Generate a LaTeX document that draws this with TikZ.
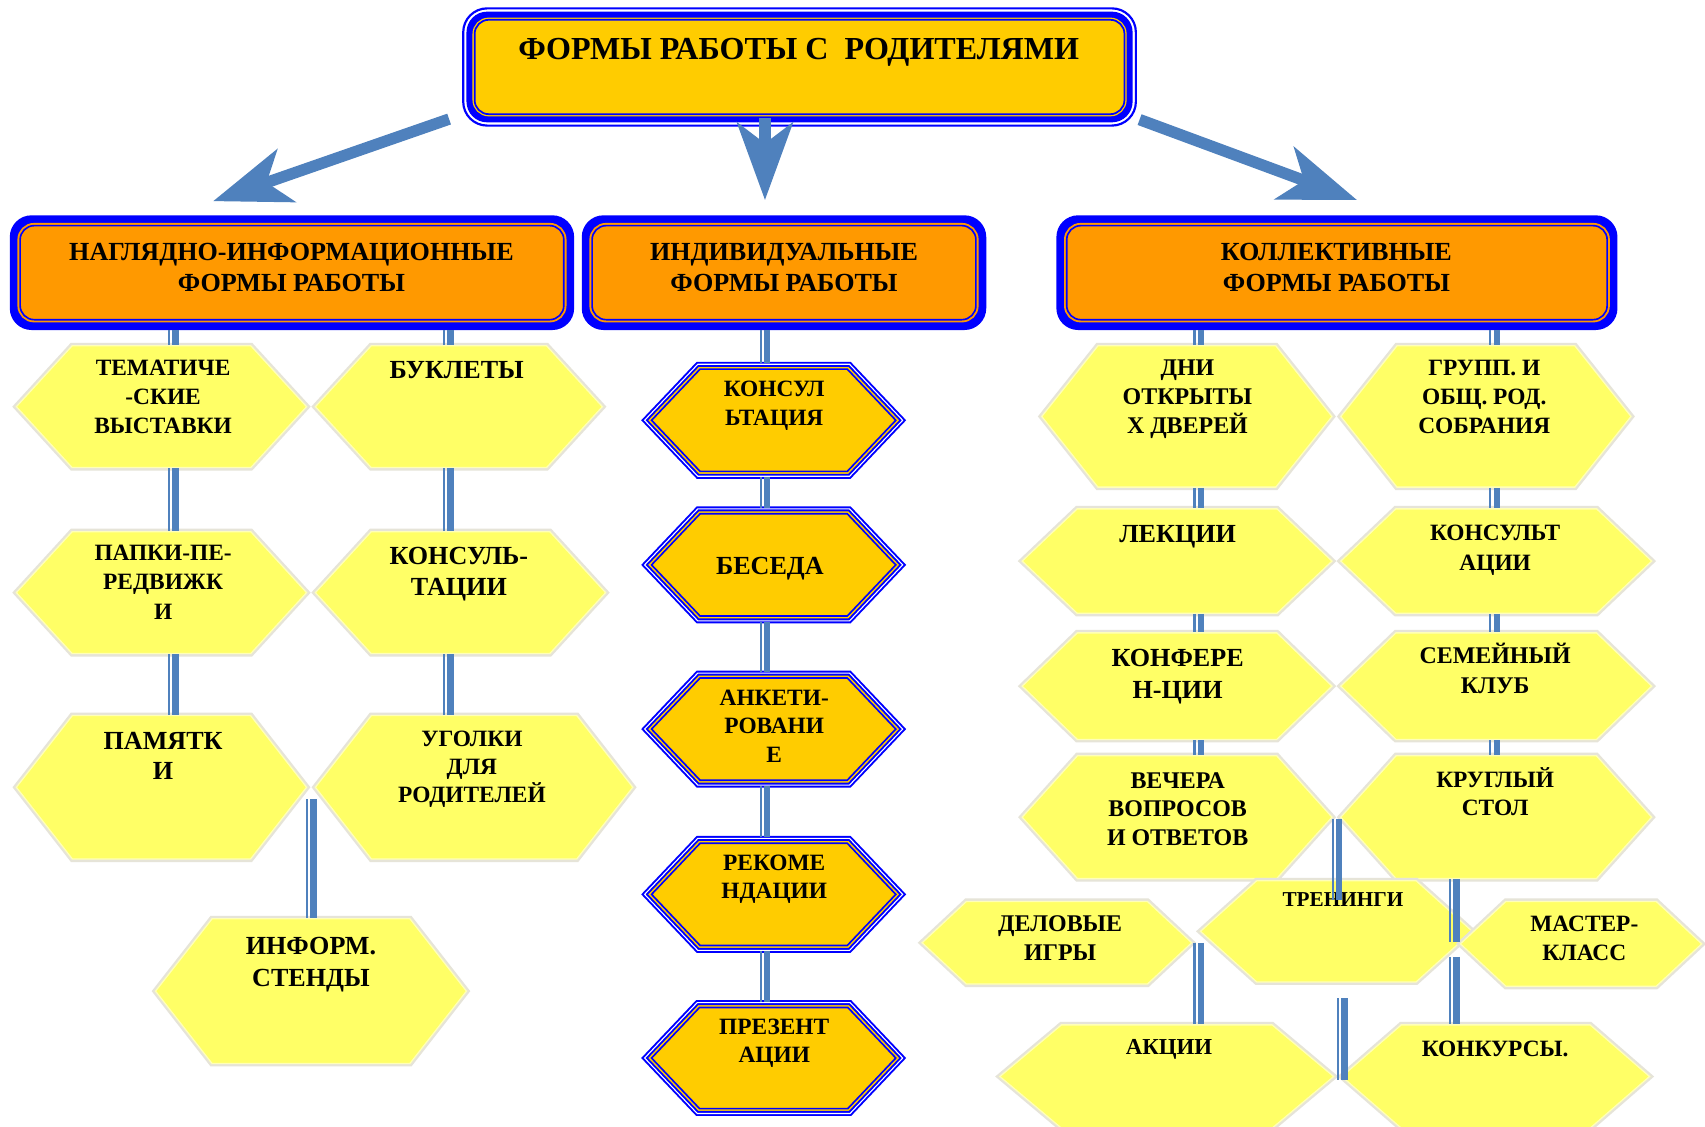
\documentclass[tikz,border=0pt]{standalone}
\usepackage{fontspec}
\setmainfont{Liberation Serif}
\usetikzlibrary{shapes.symbols,arrows.meta}
\definecolor{bblue}{HTML}{0000FF}
\definecolor{gold}{HTML}{FFCC00}
\definecolor{orng}{HTML}{FF9900}
\definecolor{hexyellow}{HTML}{FFFF66}
\definecolor{hexpale}{HTML}{FFFFB8}
\definecolor{hexgray}{HTML}{E6E4D8}
\definecolor{steel}{HTML}{4F81BD}
\newcommand\fs[2]{\fontsize{#1pt}{#2pt}\selectfont\bfseries}
\newcommand\dconn[2]{\draw[cthin] #1 -- #2; \draw[cthick] #1 -- #2;}
\begin{document}
\begin{tikzpicture}[x=1pt,y=-1pt,
  yhex/.style={signal, signal to=east and west, inner sep=0pt, fill=hexyellow,
     draw=hexpale, line width=1.2pt, preaction={draw=hexgray, line width=5.5pt}},
  ohexA/.style={signal, signal to=east and west, signal pointer angle=93, inner sep=0pt,
     fill=gold, draw=bblue, line width=1.8pt, double=white, double distance=1pt},
  ohexB/.style={signal, signal to=east and west, signal pointer angle=93, inner sep=0pt,
     draw=bblue, line width=1.5pt},
  boxout/.style={fill=bblue, rounded corners=20pt, inner sep=0pt, minimum height=105.5pt},
  boxin/.style={fill=orng, draw=bblue, line width=1.5pt, rounded corners=13pt,
     preaction={draw=orng, line width=5pt}, inner sep=0pt, minimum height=86.5pt},
  txt/.style={align=center, inner sep=0pt, anchor=north, font=\fs{21.5}{26.5}},
  cthin/.style={draw=steel, line width=2pt, transform canvas={xshift=-4.5pt}},
  cthick/.style={draw=steel, line width=6pt, transform canvas={xshift=1.5pt}},
  bigarrow/.style={draw=steel, line width=10.5pt, -{Stealth[length=71pt, width=51pt, inset=19pt]}}
]
\fill[white] (0,0) rectangle (1568,1036);
\useasboundingbox (0,0) rectangle (1568,1036);

% ---------- top box ----------
\node[draw=bblue, line width=2pt, fill=white, rounded corners=22pt, inner sep=0pt,
      minimum width=618.6pt, minimum height=107.8pt] (top) at (735.3,61.6) {};
\node[fill=bblue, rounded corners=19pt, inner sep=0pt,
      minimum width=612.6pt, minimum height=101.8pt] (topb) at (top.center) {};
\node[fill=gold, draw=bblue, line width=1.6pt, rounded corners=13pt,
      preaction={draw=gold, line width=4pt}, inner sep=0pt,
      minimum width=597.6pt, minimum height=86.8pt] (topc) at (top.center) {};
\node[txt, font=\fs{29.5}{35}] (ttl) at (734.5,35.3) {ФОРМЫ РАБОТЫ С\ \ РОДИТЕЛЯМИ};

% ---------- arrows ----------
\coordinate (aL) at (196,185);
\coordinate (aM) at (703.5,184);
\coordinate (aR) at (1248,184);
\draw[bigarrow] ([xshift=-12pt,yshift=7pt]top.south west) -- (aL);
\draw[bigarrow] ([xshift=-31.8pt,yshift=8pt]top.south) -- (aM);
\draw[bigarrow] ([xshift=2.4pt,yshift=6.5pt]top.south east) -- (aR);

% ---------- second row ----------
\node[boxout, minimum width=519pt] (l1) at (268.5,250.75) {};
\node[boxin, minimum width=500pt] (l1i) at (l1.center) {};
\node[boxout, minimum width=372pt] (l2) at (721,250.75) {};
\node[boxin, minimum width=353pt] (l2i) at (l2.center) {};
\node[boxout, minimum width=516pt] (l3) at (1229.5,250.75) {};
\node[boxin, minimum width=497pt] (l3i) at (l3.center) {};
\node[txt, font=\fs{24}{29}] (l1t) at (268,223.1) {НАГЛЯДНО-ИНФОРМАЦИОННЫЕ\\ФОРМЫ РАБОТЫ};
\node[txt, font=\fs{24}{29}] (l2t) at (721,223.1) {ИНДИВИДУАЛЬНЫЕ\\ФОРМЫ РАБОТЫ};
\node[txt, font=\fs{24}{29}] (l3t) at (1229,223.1) {КОЛЛЕКТИВНЫЕ\\ФОРМЫ РАБОТЫ};

% ---------- left group ----------
\node[yhex, signal pointer angle=95, minimum width=267pt, minimum height=112pt] (H1) at (148.5,374) {};
\node[yhex, signal pointer angle=95, minimum width=264pt, minimum height=112pt] (H2) at (422,374) {};
\node[yhex, signal pointer angle=95, minimum width=267pt, minimum height=112pt] (H3) at (148.5,545) {};
\node[yhex, signal pointer angle=95, minimum width=267pt, minimum height=112pt] (H4) at (423.5,545) {};
\node[yhex, signal pointer angle=104, minimum width=267pt, minimum height=132pt] (H5) at (148.5,724) {};
\node[yhex, signal pointer angle=104, minimum width=292pt, minimum height=132pt] (H6) at (436,724) {};
\node[yhex, signal pointer angle=104, minimum width=286pt, minimum height=133pt] (H7) at (286,911.5) {};

\node[txt] (tH1) at (150,331) {ТЕМАТИЧЕ\\-СКИЕ\\ВЫСТАВКИ};
\node[txt, font=\fs{24}{29}] (tH2) at (420,332) {БУКЛЕТЫ};
\node[txt, font=\fs{21.5}{27}] (tH3) at (150,501) {ПАПКИ-ПЕ-\\РЕДВИЖК\\И};
\node[txt, font=\fs{24}{29}] (tH4) at (422,503) {КОНСУЛЬ-\\ТАЦИИ};
\node[txt, font=\fs{24}{28}] (tH5) at (150,673) {ПАМЯТК\\И};
\node[txt, font=\fs{21.5}{26}] (tH6) at (434,672) {УГОЛКИ\\ДЛЯ\\РОДИТЕЛЕЙ};
\node[txt, font=\fs{24}{29}] (tH7) at (286,862) {ИНФОРМ.\\СТЕНДЫ};

% ---------- middle group ----------
\node[ohexA, minimum width=237.3pt, minimum height=103pt] (M1) at (711.5,386.5) {};
\node[ohexB, minimum width=224.6pt, minimum height=94pt] (M1i) at (M1.center) {};
\node[ohexA, minimum width=237.3pt, minimum height=103pt] (M2) at (711.5,519.5) {};
\node[ohexB, minimum width=224.6pt, minimum height=94pt] (M2i) at (M2.center) {};
\node[ohexA, minimum width=237.3pt, minimum height=103pt] (M3) at (711.5,670.5) {};
\node[ohexB, minimum width=224.6pt, minimum height=94pt] (M3i) at (M3.center) {};
\node[ohexA, minimum width=237.3pt, minimum height=103pt] (M4) at (711.5,822.5) {};
\node[ohexB, minimum width=224.6pt, minimum height=94pt] (M4i) at (M4.center) {};
\node[ohexA, minimum width=237.3pt, minimum height=102pt] (M5) at (711.5,973) {};
\node[ohexB, minimum width=224.6pt, minimum height=93pt] (M5i) at (M5.center) {};

\node[txt, font=\fs{21.5}{27}] (tM1) at (712,350) {КОНСУЛ\\ЬТАЦИЯ};
\node[txt, font=\fs{24}{29}] (tM2) at (708,512) {БЕСЕДА};
\node[txt, font=\fs{21.5}{26.5}] (tM3) at (712,634) {АНКЕТИ-\\РОВАНИ\\Е};
\node[txt, font=\fs{21.5}{26}] (tM4) at (712,786) {РЕКОМЕ\\НДАЦИИ};
\node[txt, font=\fs{21.5}{26}] (tM5) at (712,937) {ПРЕЗЕНТ\\АЦИИ};

% ---------- right group ----------
\node[yhex, signal pointer angle=103, minimum width=267pt, minimum height=130pt] (R1) at (1091.5,383) {};
\node[yhex, signal pointer angle=103, minimum width=267pt, minimum height=130pt] (R2) at (1366.5,383) {};
\node[yhex, signal pointer angle=87, minimum width=285pt, minimum height=96pt] (R3) at (1082.5,516) {};
\node[yhex, signal pointer angle=87, minimum width=286pt, minimum height=96pt] (R4) at (1376,516) {};
\node[yhex, signal pointer angle=88, minimum width=285pt, minimum height=98pt] (R5) at (1082.5,631) {};
\node[yhex, signal pointer angle=88, minimum width=286pt, minimum height=98pt] (R6) at (1376,631) {};
\node[yhex, signal pointer angle=96, minimum width=285pt, minimum height=113pt] (R7) at (1082.5,751.5) {};
\node[yhex, signal pointer angle=96, minimum width=286pt, minimum height=113pt] (R8) at (1376,751.5) {};
\node[yhex, signal pointer angle=86, minimum width=248pt, minimum height=76pt] (R9) at (972,867) {};
\node[yhex, signal pointer angle=84, minimum width=250pt, minimum height=93pt] (R10) at (1229,856.5) {};
\node[yhex, signal pointer angle=86, minimum width=222pt, minimum height=78pt] (R11) at (1454,868) {};
\node[yhex, signal pointer angle=80, minimum width=307pt, minimum height=95pt] (R12) at (1073,990) {};
\node[yhex, signal pointer angle=82, minimum width=283pt, minimum height=95pt] (R13) at (1375.5,990) {};

\node[txt, font=\fs{22}{26.5}] (tR1) at (1092,331) {ДНИ\\ОТКРЫТЫ\\Х ДВЕРЕЙ};
\node[txt, font=\fs{21.5}{26.5}] (tR2) at (1365,331) {ГРУПП. И\\ОБЩ. РОД.\\СОБРАНИЯ};
\node[txt, font=\fs{24}{29}] (tR3) at (1083,483) {ЛЕКЦИИ};
\node[txt, font=\fs{21.5}{27}] (tR4) at (1375,483) {КОНСУЛЬТ\\АЦИИ};
\node[txt, font=\fs{24}{29}] (tR5) at (1083,597) {КОНФЕРЕ\\Н-ЦИИ};
\node[txt, font=\fs{22}{27}] (tR6) at (1375,591.6) {СЕМЕЙНЫЙ\\КЛУБ};
\node[txt, font=\fs{22}{26.5}] (tR7) at (1083,710) {ВЕЧЕРА\\ВОПРОСОВ\\И ОТВЕТОВ};
\node[txt, font=\fs{21.5}{26}] (tR8) at (1375,705.7) {КРУГЛЫЙ\\СТОЛ};
\node[txt, font=\fs{22}{27}] (tR9) at (975,842) {ДЕЛОВЫЕ\\ИГРЫ};
\node[txt, font=\fs{19.5}{24}] (tR10) at (1235,820.6) {ТРЕНИНГИ};
\node[txt, font=\fs{21.5}{27}] (tR11) at (1457,842) {МАСТЕР-\\КЛАСС};
\node[txt, font=\fs{21}{26}] (tR12) at (1075,956) {АКЦИИ};
\node[txt, font=\fs{21.5}{26}] (tR13) at (1375,957) {КОНКУРСЫ.};

% ---------- connectors ----------
\coordinate (cx1) at (160,0);
\coordinate (cx2) at (413,0);
\coordinate (cx3) at (704,0);
\coordinate (cx4) at (1103,0);
\coordinate (cx5) at (1375,0);
\dconn{(l1.south -| cx1)}{(H1.north -| cx1)}
\dconn{(H1.south -| cx1)}{(H3.north -| cx1)}
\dconn{(H3.south -| cx1)}{(H5.north -| cx1)}
\dconn{(l1.south -| cx2)}{(H2.north -| cx2)}
\dconn{(H2.south -| cx2)}{(H4.north -| cx2)}
\dconn{(H4.south -| cx2)}{(H6.north -| cx2)}
\coordinate (j1) at (287,735);
\dconn{(j1)}{(H7.north -| j1)}

\dconn{(l2.south -| cx3)}{(M1.north -| cx3)}
\dconn{(M1.south -| cx3)}{(M2.north -| cx3)}
\dconn{(M2.south -| cx3)}{(M3.north -| cx3)}
\dconn{(M3.south -| cx3)}{(M4.north -| cx3)}
\dconn{(M4.south -| cx3)}{(M5.north -| cx3)}

\dconn{(l3.south -| cx4)}{(R1.north -| cx4)}
\dconn{(R1.south -| cx4)}{(R3.north -| cx4)}
\dconn{(R3.south -| cx4)}{(R5.north -| cx4)}
\dconn{(R5.south -| cx4)}{(R7.north -| cx4)}
\dconn{(l3.south -| cx5)}{(R2.north -| cx5)}
\dconn{(R2.south -| cx5)}{(R4.north -| cx5)}
\dconn{(R4.south -| cx5)}{(R6.north -| cx5)}
\dconn{(R6.south -| cx5)}{(R8.north -| cx5)}

\coordinate (j2) at (1230,753);
\coordinate (j3) at (1230,828);
\dconn{(j2)}{(j3)}
\coordinate (j4) at (1338,866);
\dconn{(R8.south -| j4)}{(j4)}
\coordinate (j5) at (1338,880);
\dconn{(j5)}{(R13.north -| j5)}
\coordinate (j6) at (1103,867);
\dconn{(j6)}{(R12.north -| j6)}
\coordinate (j7) at (1235,918);
\coordinate (j8) at (1235,993);
\dconn{(j7)}{(j8)}
\end{tikzpicture}
\end{document}
